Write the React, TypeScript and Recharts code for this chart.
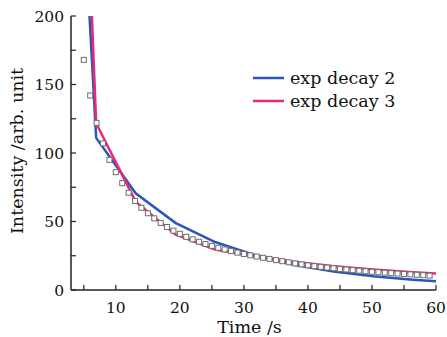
import {
  ComposedChart,
  Legend,
  Line,
  Scatter,
  XAxis,
  YAxis,
  Label,
} from "recharts";

const FONT = "'DejaVu Serif', serif";
const BLUE = "#2b55b7";
const PINK = "#e8287a";

// measured points (squares)
const SQ_T = [
  5, 6, 7, 8, 9, 10, 11, 12, 13, 14, 15, 16, 17, 18, 19, 20, 21, 22, 23, 24,
  25, 26, 27, 28, 29, 30, 31, 32, 33, 34, 35, 36, 37, 38, 39, 40, 41, 42, 43,
  44, 45, 46, 47, 48, 49, 50, 51, 52, 53, 54, 55, 56, 57, 58, 59,
];
const SQ_V = [
  168, 142, 122, 107, 95, 86, 78, 71, 65, 60, 56, 52.3, 49, 46, 43.3, 41, 38.8,
  37, 35.2, 33.6, 32.2, 30.8, 29.6, 28.4, 27.3, 26.3, 25.3, 24.4, 23.5, 22.7,
  21.8, 21.0, 20.2, 19.4, 18.7, 18.0, 17.4, 16.9, 16.4, 15.9, 15.4, 15.0, 14.5,
  14.1, 13.7, 13.3, 13.0, 12.6, 12.3, 12.0, 11.7, 11.4, 11.1, 10.8, 10.5,
];

// fitted curves, sampled coarsely
const FIT_T = [0.75, 6.93, 13.1, 19.3, 25.5, 31.7, 37.8, 44, 50.2, 56.4, 62.6];
const EXP2 = [640, 111, 70.6, 49, 35, 25.5, 18.5, 13.5, 10.0, 7.5, 5.5];
const EXP3 = [844, 121.7, 64.5, 40.6, 29.6, 24.4, 20.6, 17.4, 14.9, 13.0, 11.4];

const X_TICKS = [5, 10, 15, 20, 25, 30, 35, 40, 45, 50, 55, 60];
const Y_TICKS = [0, 25, 50, 75, 100, 125, 150, 175, 200];

const SERIES = [
  { name: "exp decay 2", color: BLUE, values: EXP2 },
  { name: "exp decay 3", color: PINK, values: EXP3 },
];

const squares = SQ_T.map((t, i) => ({ t, v: SQ_V[i] }));
const fits = SERIES.map((s) => ({
  ...s,
  data: FIT_T.map((t, i) => ({ t, v: s.values[i] })),
}));

const major = (v: number) => (v % 50 === 0 ? String(v) : "");
const majorX = (v: number) => (v % 10 === 0 ? String(v) : "");

function Square(props: any) {
  const { cx, cy } = props;
  if (cx == null || cy == null) return null;
  return (
    <rect
      x={cx - 2.5}
      y={cy - 2.5}
      width={5}
      height={5}
      fill="#fff"
      stroke="#6e6e6e"
      strokeWidth={1}
    />
  );
}

function LegendBox() {
  return (
    <div style={{ fontFamily: FONT, fontSize: 17.5, color: "#111" }}>
      {SERIES.map((s) => (
        <div
          key={s.name}
          style={{ display: "flex", alignItems: "center", height: 23 }}
        >
          <svg width={37} height={23}>
            <line x1={0} x2={31} y1={12} y2={12} stroke={s.color} strokeWidth={2.5} />
          </svg>
          <span>{s.name}</span>
        </div>
      ))}
    </div>
  );
}

const tickStyle = { fontFamily: FONT, fontSize: 15.5, fill: "#111" };

export default function App() {
  return (
    <div style={{ position: "absolute", left: 0, top: 0, background: "#fff" }}>
      <ComposedChart
        width={447}
        height={337}
        margin={{ top: 16, right: 11, bottom: 0, left: 0 }}
      >
        <XAxis
          dataKey="t"
          type="number"
          domain={[3, 60]}
          allowDataOverflow
          ticks={X_TICKS}
          tickFormatter={majorX}
          height={47}
          tickSize={-5}
          tickMargin={17}
          tick={tickStyle}
          axisLine={{ stroke: "#222", strokeWidth: 1.5 }}
          tickLine={{ stroke: "#222", strokeWidth: 1.2 }}
        >
          <Label
            content={(p: any) => {
              const vb = p.viewBox;
              return (
                <text
                  x={vb.x + vb.width / 2 - 4}
                  y={vb.y + 43}
                  textAnchor="middle"
                  style={{ fontFamily: FONT, fontSize: 17.5, fill: "#111" }}
                >
                  Time /s
                </text>
              );
            }}
          />
        </XAxis>
        <XAxis
          xAxisId="top"
          orientation="top"
          type="number"
          domain={[3, 60]}
          height={0}
          tick={false}
          tickLine={false}
          axisLine={{ stroke: "#222", strokeWidth: 1.5 }}
        />
        <YAxis
          dataKey="v"
          type="number"
          domain={[0, 200]}
          allowDataOverflow
          ticks={Y_TICKS}
          tickFormatter={major}
          width={71}
          tickSize={-5}
          tickMargin={12}
          tick={tickStyle}
          axisLine={{ stroke: "#222", strokeWidth: 1.5 }}
          tickLine={{ stroke: "#222", strokeWidth: 1.2 }}
        >
          <Label
            content={(p: any) => {
              const vb = p.viewBox;
              const cx = vb.x + 23;
              const cy = vb.y + vb.height / 2 - 2;
              return (
                <text
                  x={cx}
                  y={cy}
                  transform={`rotate(-90 ${cx} ${cy})`}
                  textAnchor="middle"
                  style={{ fontFamily: FONT, fontSize: 17.5, fill: "#111" }}
                >
                  Intensity /arb. unit
                </text>
              );
            }}
          />
        </YAxis>
        <YAxis
          yAxisId="right"
          orientation="right"
          type="number"
          domain={[0, 200]}
          width={0}
          tick={false}
          tickLine={false}
          axisLine={{ stroke: "#222", strokeWidth: 1.5 }}
        />
        <Scatter
          data={squares}
          dataKey="v"
          shape={Square}
          isAnimationActive={false}
          legendType="none"
        />
        {fits.map((s) => (
          <Line
            key={s.name}
            data={s.data}
            dataKey="v"
            name={s.name}
            type="linear"
            stroke={s.color}
            strokeWidth={2.5}
            dot={false}
            activeDot={false}
            isAnimationActive={false}
          />
        ))}
        <Legend
          layout="vertical"
          align="center"
          verticalAlign="middle"
          content={() => <LegendBox />}
          wrapperStyle={{ left: 253, top: 66, width: "auto" }}
        />
      </ComposedChart>
    </div>
  );
}
